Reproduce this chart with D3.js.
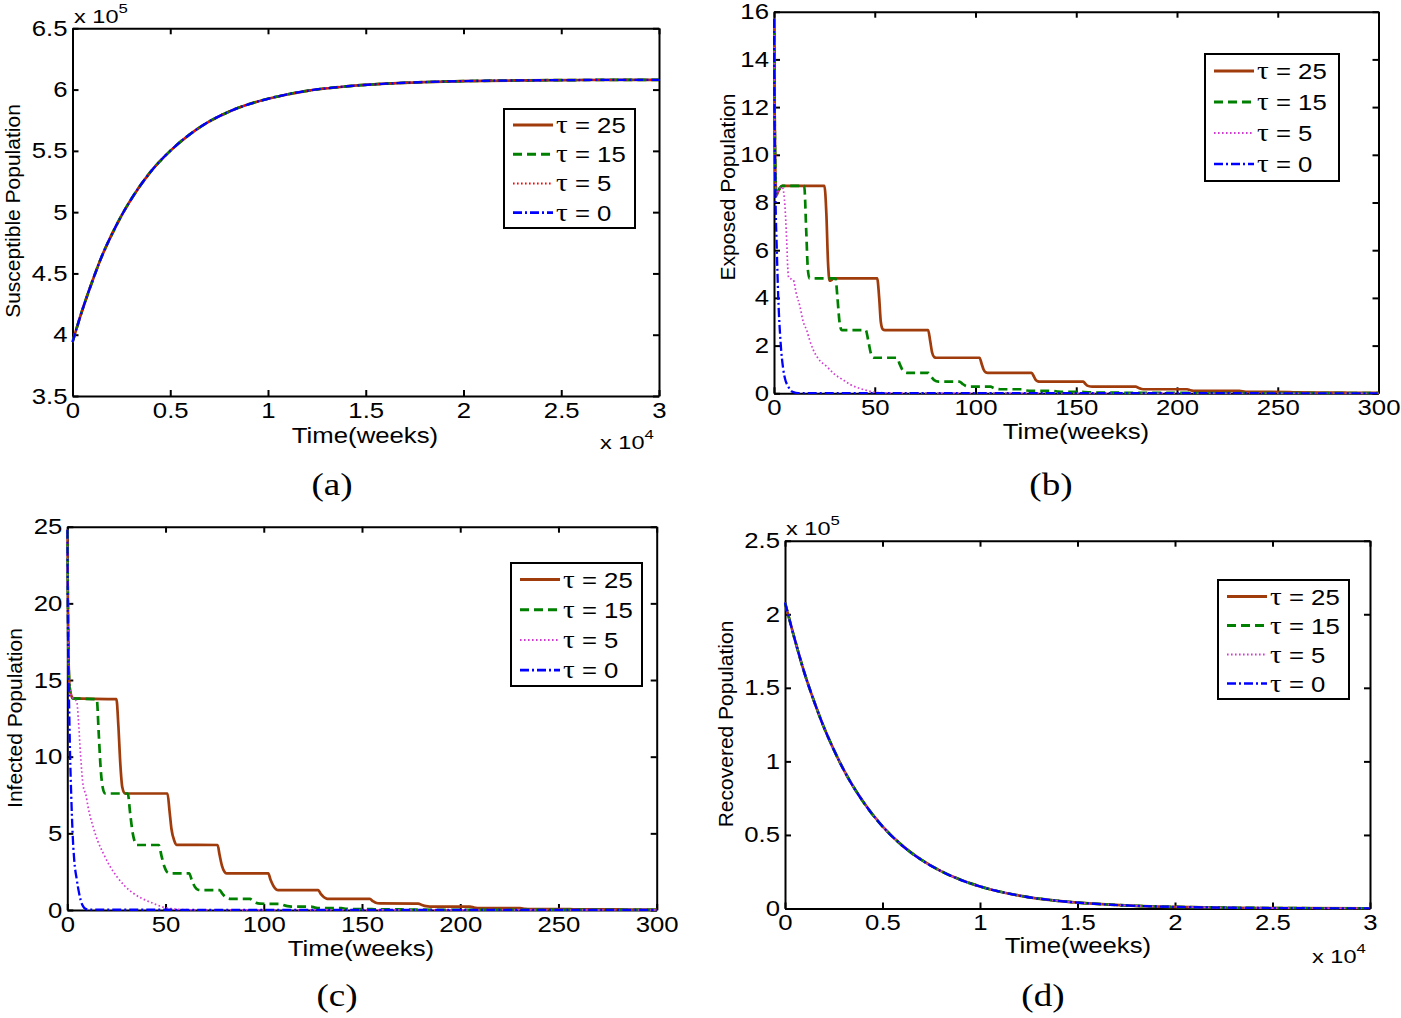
<!DOCTYPE html>
<html><head><meta charset="utf-8">
<script src="https://cdn.jsdelivr.net/npm/d3@7"></script>
<style>body{margin:0;background:#fff}svg{display:block}</style>
</head><body>
<svg id="fig" width="1401" height="1018"></svg>
<script>
// ---------------- DATA ----------------
const tauValues = [25, 15, 5, 0];
// (a) Susceptible: time in x10^4 weeks, value in x10^5
const susceptibleT = [0, 0.05, 0.1, 0.15, 0.2, 0.25, 0.3, 0.4, 0.5, 0.6, 0.7, 0.8, 0.9, 1.0, 1.2, 1.4, 1.6, 1.8, 2.0, 2.3, 2.6, 3.0];
const susceptibleV = [3.94, 4.20, 4.43, 4.64, 4.815, 4.97, 5.105, 5.33, 5.50, 5.635, 5.74, 5.82, 5.88, 5.925, 5.99, 6.026, 6.048, 6.061, 6.069, 6.075, 6.078, 6.08];
// (d) Recovered: time in x10^4 weeks, value in x10^5
const recoveredT = [0, 0.05, 0.1, 0.15, 0.2, 0.25, 0.3, 0.4, 0.5, 0.6, 0.7, 0.8, 0.9, 1.0, 1.2, 1.4, 1.6, 1.8, 2.0, 2.3, 2.6, 3.0];
const recoveredV = [2.08, 1.83, 1.60, 1.405, 1.23, 1.08, 0.945, 0.727, 0.558, 0.429, 0.33, 0.254, 0.195, 0.15, 0.088, 0.052, 0.031, 0.018, 0.011, 0.005, 0.0022, 0.0008];
// (b) Exposed: [week, value]
const exposedTau25 = [[0,15.7],[0.3,12],[0.7,9.2],[1.2,8.3],[2,8.45],[3,8.62],[4,8.7],[25,8.7],[26,7.5],[26.8,5.5],[27.6,4.72],[28.5,4.75],[29.5,4.82],[51.2,4.82],[52.2,4.0],[53,3.0],[54,2.68],[55,2.65],[76.5,2.65],[77.5,2.2],[78.5,1.7],[79.5,1.52],[80.5,1.49],[102,1.49],[103,1.25],[104,1.0],[105,0.88],[106,0.86],[127.8,0.86],[129,0.7],[130,0.55],[131,0.5],[132,0.49],[153.5,0.49],[154.5,0.4],[155.5,0.32],[157,0.285],[158,0.28],[179.5,0.28],[181,0.22],[182.5,0.18],[184,0.17],[205,0.17],[206.5,0.13],[208,0.105],[210,0.1],[231,0.1],[234,0.06],[256,0.055],[259,0.035],[282,0.03],[285,0.02],[300,0.02]];
const exposedTau15 = [[0,15.7],[0.3,12],[0.7,9.2],[1.2,8.3],[2,8.45],[3,8.62],[4,8.7],[15,8.7],[16,6.8],[16.8,5.2],[17.6,4.82],[30.5,4.82],[31.5,4.0],[32.5,3.0],[33.6,2.65],[45.5,2.65],[46.8,2.2],[48,1.7],[49.3,1.49],[61,1.49],[62.5,1.2],[64,0.95],[65.9,0.86],[76.6,0.86],[78,0.7],[79.5,0.55],[81.6,0.49],[92,0.49],[93.5,0.4],[95,0.32],[97,0.28],[107.5,0.28],[109,0.22],[111,0.18],[112.5,0.17],[123,0.17],[125,0.12],[128,0.1],[138.5,0.1],[141,0.07],[144,0.06],[154,0.055],[158,0.035],[170,0.03],[175,0.02],[300,0.005]];
const exposedTau5 = [[0,15.7],[0.3,12],[0.7,9.2],[1.2,8.3],[2,8.45],[3,8.62],[4,8.65],[5,8.3],[5.8,7.3],[6.3,6.4],[6.8,5.3],[7.3,4.85],[9.6,4.75],[11,4.2],[12.9,3.63],[14.5,3.0],[16.2,2.65],[17.8,2.2],[19.5,1.82],[22,1.45],[26.2,1.12],[30,0.8],[34.4,0.56],[38,0.36],[42.7,0.2],[46,0.12],[49.3,0.05],[55,0.02],[70,0.005],[300,0]];
const exposedTau0 = [[0,15.7],[0.2,12.5],[0.5,9.5],[0.9,7.5],[1.3,6.3],[2.1,4.05],[3.3,2.1],[4.6,1.0],[5.5,0.6],[7.1,0.28],[8.5,0.1],[9.6,0.05],[12,0.01],[300,0]];
// (c) Infected: [week, value]
const infectedTau25 = [[0,24.8],[0.3,20],[0.7,16],[1.2,14.5],[2,14],[3,13.8],[25,13.75],[26,12],[27,9.5],[28,8],[29.3,7.6],[51,7.6],[52,6.5],[53,5.3],[54.5,4.5],[55.7,4.25],[76.5,4.24],[77.5,3.6],[78.7,2.9],[80,2.5],[81,2.39],[102.3,2.39],[103.5,1.95],[105,1.55],[106.3,1.35],[107.4,1.3],[127.7,1.3],[129,1.05],[130.5,0.85],[131.8,0.75],[132.8,0.72],[154,0.72],[155.5,0.58],[157,0.47],[159,0.43],[178.6,0.42],[180.5,0.33],[182.5,0.25],[184.6,0.22],[205,0.22],[207,0.16],[210,0.12],[230.5,0.12],[233,0.08],[236,0.065],[256,0.06],[259,0.04],[282,0.035],[285,0.02],[300,0.02]];
const infectedTau15 = [[0,24.8],[0.3,20],[0.7,16],[1.2,14.5],[2,14],[3,13.8],[15,13.75],[16,11.5],[17,9.2],[18,8],[19.2,7.6],[30.8,7.6],[32,6.3],[33.3,5],[34.5,4.4],[35.5,4.24],[46.5,4.24],[48,3.5],[49.5,2.8],[51,2.45],[52.5,2.39],[62,2.39],[63.5,1.9],[65,1.5],[66.5,1.32],[68,1.3],[77.5,1.3],[79,1.05],[80.5,0.85],[82,0.75],[83.5,0.72],[93,0.72],[94.5,0.58],[96,0.47],[98,0.41],[108.5,0.4],[110,0.32],[112,0.25],[114,0.22],[124,0.22],[126,0.16],[129,0.12],[139.5,0.12],[142,0.08],[145,0.065],[155,0.06],[158,0.04],[170,0.035],[173,0.02],[300,0.005]];
const infectedTau5 = [[0,24.8],[0.3,20],[0.7,16],[1.2,14.5],[2,14],[3,13.8],[4.8,13.6],[5.6,12.5],[6.7,10.2],[8.1,8.08],[9.5,7.5],[10.6,6.7],[13.2,5.4],[15.5,4.5],[18.3,3.7],[21.5,2.9],[25.1,2.2],[29,1.6],[33.6,1.09],[38,0.75],[43.8,0.43],[48,0.22],[52.3,0.1],[58,0.03],[70,0.005],[300,0]];
const infectedTau0 = [[0,24.8],[0.2,20],[0.5,16],[0.9,13.5],[1.4,10.2],[2,7.5],[2.7,5],[3.5,3.3],[4.8,2],[6,1.1],[6.8,0.65],[8,0.25],[9,0.1],[11,0.02],[300,0]];
// tick values
const ticksA_x = [0, 0.5, 1, 1.5, 2, 2.5, 3];
const ticksA_y = [3.5, 4, 4.5, 5, 5.5, 6, 6.5];
const ticksB_x = [0, 50, 100, 150, 200, 250, 300];
const ticksB_y = [0, 2, 4, 6, 8, 10, 12, 14, 16];
const ticksC_y = [0, 5, 10, 15, 20, 25];
const ticksD_y = [0, 0.5, 1, 1.5, 2, 2.5];

// ---------------- STYLE ----------------
const SX = 1.17;
const SANS = "'Liberation Sans', Arial, Helvetica, sans-serif";
const SERIF = "'Liberation Serif', 'Times New Roman', serif";
const BROWN = "#a03c0c", GREEN = "#008000", MAG = "#d23cd2", RED = "#ff0000", BLUE = "#0000ff";
function styles(thirdColor){
  return [
    {color: BROWN, width: 2.7, dash: null},
    {color: GREEN, width: 2.7, dash: "9,5"},
    {color: thirdColor, width: 1.7, dash: "1.6,2.4"},
    {color: BLUE, width: 2.3, dash: "9,3,2,3"}
  ];
}
const zip = (t, v) => t.map((d, i) => [d, v[i]]);

const svg = d3.select("#fig");
svg.append("rect").attr("width",1401).attr("height",1018).attr("fill","#fff");

function htext(parent, x, y, str, size, anchor, family, sx){
  return parent.append("text")
    .attr("transform", `translate(${x},${y}) scale(${sx || SX},1)`)
    .attr("text-anchor", anchor || "middle")
    .attr("font-family", family || SANS)
    .attr("font-size", size)
    .attr("fill", "#000")
    .text(str);
}
function expo(parent, x, y, p){
  const t = parent.append("text")
    .attr("transform", `translate(${x},${y}) scale(1.24,1)`)
    .attr("font-family", SANS).attr("font-size", 19).attr("fill","#000");
  t.append("tspan").text("x 10");
  t.append("tspan").attr("font-size", 13.5).attr("dy", -10).text(p);
}

function panel(cfg){
  const g = svg.append("g");
  const x = d3.scaleLinear().domain(cfg.xDomain).range([cfg.left, cfg.right]);
  const y = d3.scaleLinear().domain(cfg.yDomain).range([cfg.bottom, cfg.top]);
  const st = styles(cfg.third);
  const fmt = d => String(d);
  const ax = [];
  ax.push(g.append("g").attr("transform", `translate(0,${cfg.bottom})`)
    .call(d3.axisBottom(x).tickValues(cfg.xTicks).tickSize(-6).tickSizeOuter(0).tickPadding(7).tickFormat(fmt)));
  ax.push(g.append("g").attr("transform", `translate(0,${cfg.top})`)
    .call(d3.axisTop(x).tickValues(cfg.xTicks).tickSize(-6).tickSizeOuter(0).tickFormat("")));
  ax.push(g.append("g").attr("transform", `translate(${cfg.left},0)`)
    .call(d3.axisLeft(y).tickValues(cfg.yTicks).tickSize(-6).tickSizeOuter(0).tickPadding(5).tickFormat(fmt)));
  ax.push(g.append("g").attr("transform", `translate(${cfg.right},0)`)
    .call(d3.axisRight(y).tickValues(cfg.yTicks).tickSize(-6).tickSizeOuter(0).tickFormat("")));
  ax.forEach(a => {
    a.attr("font-family", SANS).attr("font-size", 22);
    a.select(".domain").attr("stroke", "#000").attr("stroke-width", 2);
    a.selectAll(".tick line").attr("stroke", "#000").attr("stroke-width", 2);
    a.selectAll(".tick text").attr("fill", "#000");
  });
  ax[0].selectAll(".tick text").attr("transform", `scale(${SX},1)`).attr("dy", "0.68em");
  ax[2].selectAll(".tick text").attr("transform", `scale(${SX},1)`).attr("x", -5 / SX);

  // data lines drawn over the axes (as in the original)
  const cid = "clip-" + cfg.name;
  svg.append("clipPath").attr("id", cid).append("rect")
    .attr("x", cfg.left - 1).attr("y", cfg.top - 2)
    .attr("width", cfg.right - cfg.left + 2).attr("height", cfg.bottom - cfg.top + 3);
  const lg = g.append("g").attr("clip-path", `url(#${cid})`);
  const line = d3.line().x(d => x(d[0])).y(d => y(d[1])).curve(d3.curveMonotoneX);
  cfg.series.forEach((s, i) => {
    lg.append("path").datum(s).attr("d", line).attr("fill", "none")
      .attr("stroke", st[i].color).attr("stroke-width", st[i].width)
      .attr("stroke-dasharray", st[i].dash).attr("stroke-linejoin","round");
  });

  // x label
  htext(g, cfg.xl[0], cfg.xl[1], "Time(weeks)", 22);
  // y label
  g.append("text")
    .attr("transform", `translate(${cfg.yl[0]},${cfg.yl[1]}) rotate(-90)`)
    .attr("text-anchor", "middle").attr("font-family", SANS).attr("font-size", 21)
    .attr("fill", "#000").text(cfg.ylabel);
  // caption
  htext(g, cfg.cap[0], cfg.cap[1], cfg.caption, 32, "middle", SERIF, 1.16);

  // legend
  const L = cfg.legend;
  const leg = g.append("g");
  leg.append("rect").attr("x", L.x).attr("y", L.y).attr("width", L.w).attr("height", L.h)
    .attr("fill", "#fff").attr("stroke", "#000").attr("stroke-width", 2);
  tauValues.forEach((tau, i) => {
    const ry = L.y + L.r0 + i * L.dy;
    leg.append("line").attr("x1", L.x + 9).attr("x2", L.x + 49).attr("y1", ry).attr("y2", ry)
      .attr("stroke", st[i].color).attr("stroke-width", st[i].width + 0.3).attr("stroke-dasharray", st[i].dash);
    const t = leg.append("text")
      .attr("transform", `translate(${L.x + 52},${ry + 8}) scale(${SX},1)`)
      .attr("font-family", SANS).attr("font-size", 22).attr("fill", "#000");
    t.append("tspan").attr("font-family", SERIF).attr("font-size", 25).text("\u03c4");
    t.append("tspan").text(" = " + tau);
  });
  return g;
}

const gA = panel({
  name: "a", left: 72.5, right: 659, top: 28.3, bottom: 396,
  xDomain: [0, 3], yDomain: [3.5, 6.5], xTicks: ticksA_x, yTicks: ticksA_y,
  series: [0,1,2,3].map(() => zip(susceptibleT, susceptibleV)), third: RED,
  xl: [365, 443], yl: [20, 211], ylabel: "Susceptible Population",
  cap: [332, 495], caption: "(a)",
  legend: {x: 504, y: 109, w: 131, h: 119, r0: 16, dy: 29.2}
});
expo(gA, 74, 23, "5");
expo(gA, 600, 449, "4");

panel({
  name: "b", left: 774, right: 1378.5, top: 11.7, bottom: 393.3,
  xDomain: [0, 300], yDomain: [0, 16], xTicks: ticksB_x, yTicks: ticksB_y,
  series: [exposedTau25, exposedTau15, exposedTau5, exposedTau0], third: MAG,
  xl: [1076, 439], yl: [735, 187], ylabel: "Exposed Population",
  cap: [1051, 495], caption: "(b)",
  legend: {x: 1205, y: 54, w: 134, h: 127, r0: 17, dy: 31}
});

panel({
  name: "c", left: 67.3, right: 656.7, top: 526.7, bottom: 910,
  xDomain: [0, 300], yDomain: [0, 25], xTicks: ticksB_x, yTicks: ticksC_y,
  series: [infectedTau25, infectedTau15, infectedTau5, infectedTau0], third: MAG,
  xl: [361, 956], yl: [22, 718], ylabel: "Infected Population",
  cap: [337, 1006], caption: "(c)",
  legend: {x: 511, y: 563, w: 131, h: 123, r0: 16.5, dy: 30.2}
});

const gD = panel({
  name: "d", left: 785, right: 1370, top: 540.7, bottom: 908.5,
  xDomain: [0, 3], yDomain: [0, 2.5], xTicks: ticksA_x, yTicks: ticksD_y,
  series: [0,1,2,3].map(() => zip(recoveredT, recoveredV)), third: MAG,
  xl: [1078, 953], yl: [733, 724], ylabel: "Recovered Population",
  cap: [1043, 1006], caption: "(d)",
  legend: {x: 1218, y: 580, w: 131, h: 119, r0: 16.5, dy: 29}
});
expo(gD, 786, 535, "5");
expo(gD, 1312, 963, "4");
</script>
</body></html>
